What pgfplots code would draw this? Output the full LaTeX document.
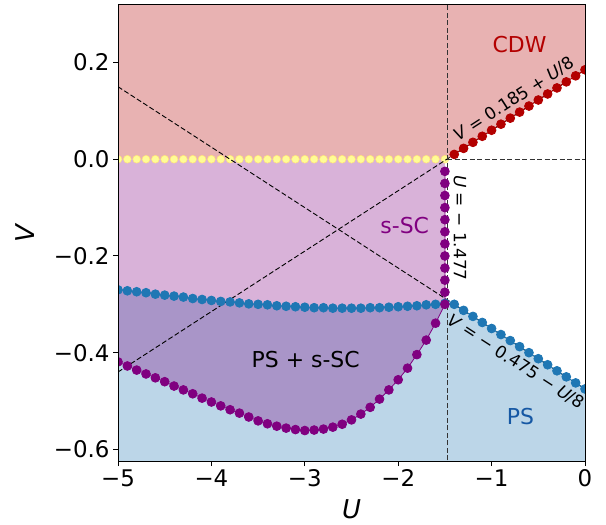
\documentclass[border=0pt]{standalone}
\usepackage{fontspec}
\setmainfont{DejaVu Sans}
\usepackage{pgfplots}
\pgfplotsset{compat=1.18}
\usepackage{pgfplotstable}
\usepgfplotslibrary{fillbetween}

\definecolor{cdwred}{RGB}{179,0,0}
\definecolor{cdwfill}{RGB}{232,178,178}
\definecolor{scpurple}{RGB}{128,0,128}
\definecolor{psblue}{RGB}{31,119,180}
\definecolor{psfill}{RGB}{188,214,232}
\definecolor{pstext}{RGB}{22,88,164}
\definecolor{ylw}{RGB}{255,252,150}

% PS boundary (blue): curve for U<-1.477, then V=-0.475-U/8
\pgfplotstableread{
U V
-5.0 -0.270
-4.9 -0.272
-4.8 -0.274
-4.7 -0.276
-4.6 -0.279
-4.5 -0.281
-4.4 -0.283
-4.3 -0.285
-4.2 -0.288
-4.1 -0.290
-4.0 -0.292
-3.9 -0.294
-3.8 -0.295
-3.7 -0.297
-3.6 -0.299
-3.5 -0.300
-3.4 -0.301
-3.3 -0.303
-3.2 -0.304
-3.1 -0.305
-3.0 -0.306
-2.9 -0.307
-2.8 -0.307
-2.7 -0.308
-2.6 -0.308
-2.5 -0.308
-2.4 -0.308
-2.3 -0.307
-2.2 -0.307
-2.1 -0.306
-2.0 -0.305
-1.9 -0.304
-1.8 -0.303
-1.7 -0.301
-1.6 -0.300
-1.5 -0.298
-1.4 -0.300
-1.3 -0.3125
-1.2 -0.325
-1.1 -0.3375
-1.0 -0.350
-0.9 -0.3625
-0.8 -0.375
-0.7 -0.3875
-0.6 -0.400
-0.5 -0.4125
-0.4 -0.425
-0.3 -0.4375
-0.2 -0.450
-0.1 -0.4625
0.0 -0.475
}\bluedata

% s-SC boundary (purple): lower curve, then up along U=-1.5
\pgfplotstableread{
U V
-5.0 -0.419
-4.9 -0.4275
-4.8 -0.436
-4.7 -0.444
-4.6 -0.452
-4.5 -0.460
-4.4 -0.469
-4.3 -0.477
-4.2 -0.485
-4.1 -0.494
-4.0 -0.502
-3.9 -0.510
-3.8 -0.518
-3.7 -0.525
-3.6 -0.533
-3.5 -0.541
-3.4 -0.547
-3.3 -0.552
-3.2 -0.556
-3.1 -0.559
-3.0 -0.561
-2.9 -0.560
-2.8 -0.558
-2.7 -0.554
-2.6 -0.548
-2.5 -0.539
-2.4 -0.527
-2.3 -0.513
-2.2 -0.496
-2.1 -0.477
-2.0 -0.456
-1.9 -0.432
-1.8 -0.404
-1.7 -0.374
-1.6 -0.339
-1.5 -0.300
-1.5 -0.275
-1.5 -0.250
-1.5 -0.225
-1.5 -0.200
-1.5 -0.175
-1.5 -0.150
-1.5 -0.125
-1.5 -0.100
-1.5 -0.075
-1.5 -0.050
-1.5 -0.025
}\purpledata

% CDW boundary (red): V=0.185+U/8
\pgfplotstableread{
U V
-1.4 0.0100
-1.3 0.0225
-1.2 0.0350
-1.1 0.0475
-1.0 0.0600
-0.9 0.0725
-0.8 0.0850
-0.7 0.0975
-0.6 0.1100
-0.5 0.1225
-0.4 0.1350
-0.3 0.1475
-0.2 0.1600
-0.1 0.1725
0.0 0.1850
}\reddata

% V=0 line (yellow)
\pgfplotstableread{
U V
-5.0 0
-4.9 0
-4.8 0
-4.7 0
-4.6 0
-4.5 0
-4.4 0
-4.3 0
-4.2 0
-4.1 0
-4.0 0
-3.9 0
-3.8 0
-3.7 0
-3.6 0
-3.5 0
-3.4 0
-3.3 0
-3.2 0
-3.1 0
-3.0 0
-2.9 0
-2.8 0
-2.7 0
-2.6 0
-2.5 0
-2.4 0
-2.3 0
-2.2 0
-2.1 0
-2.0 0
-1.9 0
-1.8 0
-1.7 0
-1.6 0
-1.5 0
}\yellowdata

\begin{document}
\begin{tikzpicture}
\begin{axis}[
    at={(0,0)}, anchor=south west,
    scale only axis,
    width=467bp, height=456bp,
    xmin=-5, xmax=0,
    ymin=-0.624, ymax=0.319,
    xtick={-5,-4,-3,-2,-1,0},
    xticklabels={−5,−4,−3,−2,−1,0},
    ytick={-0.6,-0.4,-0.2,0,0.2},
    yticklabels={−0.6,−0.4,−0.2,0.0,0.2},
    tick align=outside,
    tick pos=left,
    major tick length=5bp,
    every tick/.style={black, line width=1bp},
    axis line style={black, line width=1bp},
    tick label style={font=\fontsize{23}{27}\selectfont},
    xlabel={\textit{U}},
    ylabel={\textit{V}},
    xlabel style={font=\fontsize{26}{30}\selectfont, at={(axis description cs:0.5,-0.105)}, anchor=center},
    ylabel style={font=\fontsize{26}{30}\selectfont, at={(axis description cs:-0.199,0.5)}, anchor=center},
    clip marker paths=true,
    axis on top,
]
% filled regions
\addplot[draw=none, name path=bl] table {\bluedata};
\addplot[draw=none, name path=bot] coordinates {(-5,-0.7) (0,-0.7)};
\addplot[psfill] fill between[of=bl and bot];
\addplot[draw=none, name path=pu] table {\purpledata};
\addplot[draw=none, name path=zero] coordinates {(-5,0) (-1.5,0)};
\addplot[scpurple, fill opacity=0.3] fill between[of=pu and zero];
\addplot[draw=none, fill=cdwfill] coordinates {(-5,0.4) (-5,0) (-1.477,0) (0,0.185) (0,0.4)};

% yellow dots on V=0
\addplot[only marks, mark=*, mark size=3.9bp, mark options={fill=ylw, draw=ylw!80!orange, line width=0.5bp}] table {\yellowdata};

% guide lines
\addplot[black, line width=0.9bp, dash pattern=on 5bp off 2.5bp] coordinates {(-5,-0.44) (0,0.185)};
\addplot[black, line width=0.9bp, dash pattern=on 5bp off 2.5bp] coordinates {(-5,0.15) (0,-0.475)};
\addplot[black!80, line width=1bp, dash pattern=on 5bp off 2.5bp] coordinates {(-1.477,-0.7) (-1.477,0.4)};
\addplot[black!80, line width=1bp, dash pattern=on 5bp off 2.5bp] coordinates {(-1.477,0) (0,0)};

% phase boundaries
\addplot[psblue, line width=0.8bp, mark=*, mark size=4.4bp, mark options={fill=psblue, draw=psblue}] table {\bluedata};
\addplot[cdwred, line width=0.8bp, mark=*, mark size=4.4bp, mark options={fill=cdwred, draw=cdwred}] table {\reddata};
\addplot[scpurple, line width=0.8bp, mark=*, mark size=4.4bp, mark options={fill=scpurple, draw=scpurple}] table {\purpledata};

% labels
\node[font=\fontsize{22}{26}\selectfont, text=cdwred] at (axis cs:-0.70,0.238) {CDW};
\node[font=\fontsize{22}{26}\selectfont, text=scpurple] at (axis cs:-1.93,-0.138) {s-SC};
\node[font=\fontsize{22}{26}\selectfont, text=black] at (axis cs:-2.99,-0.415) {PS + s-SC};
\node[font=\fontsize{22}{26}\selectfont, text=pstext] at (axis cs:-0.69,-0.533) {PS};
\node[font=\fontsize{17}{20}\selectfont, rotate=32.9] at (axis cs:-0.76,0.124) {\textit{V} = 0.185 + \textit{U}/8};
\node[font=\fontsize{17}{20}\selectfont, rotate=-90] at (axis cs:-1.338,-0.142) {\textit{U} = − 1.477};
\node[font=\fontsize{17}{20}\selectfont, rotate=-32.9] at (axis cs:-0.74,-0.419) {\textit{V} = − 0.475 − \textit{U}/8};
\end{axis}
\pgfresetboundingbox
\useasboundingbox (-118bp,-64bp) rectangle (488bp,461bp);
\end{tikzpicture}
\end{document}
